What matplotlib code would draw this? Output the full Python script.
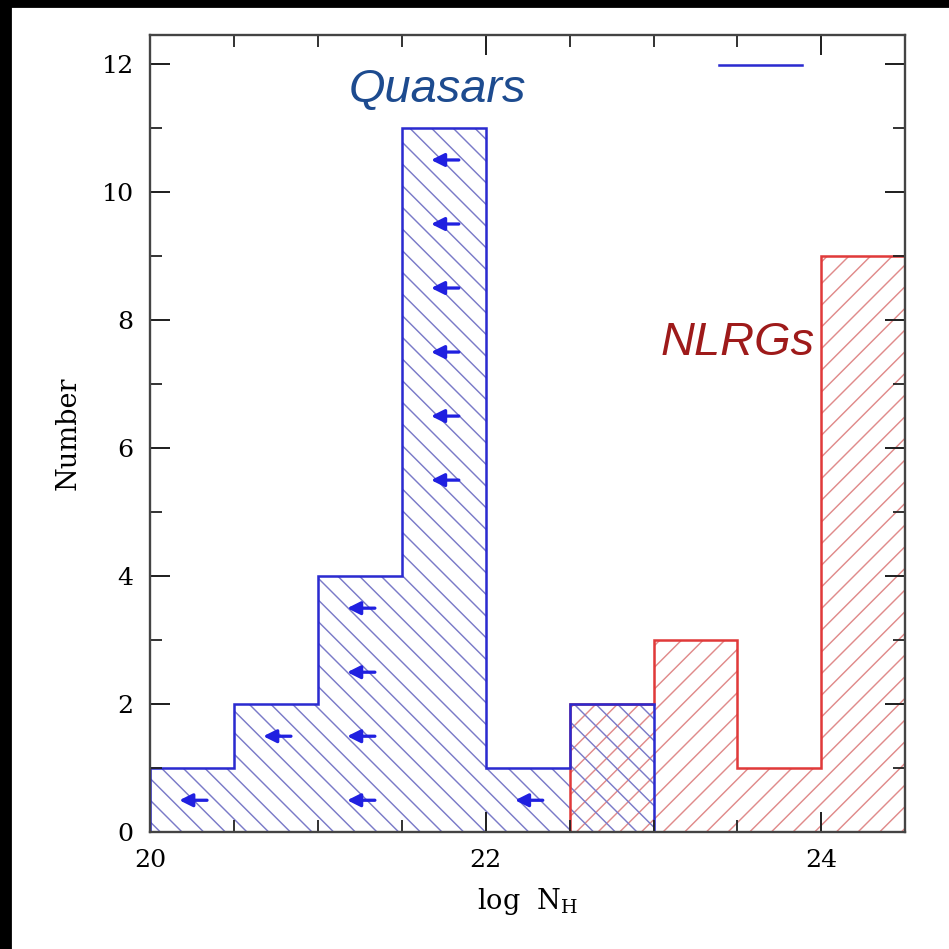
import matplotlib
matplotlib.use("Agg")
import matplotlib.pyplot as plt
from matplotlib.lines import Line2D
from matplotlib.patches import Rectangle
from matplotlib.ticker import MultipleLocator

# histogram data, bins of 0.5 in log NH
qso_edges = [20.0, 20.5, 21.0, 21.5, 22.0, 22.5, 23.0]
qso_counts = [1, 2, 4, 11, 1, 2]
nlrg_edges = [22.5, 23.0, 23.5, 24.0, 24.5]
nlrg_counts = [2, 3, 1, 9]

# upper limits (bin centre, level)
ul_x = [20.25, 20.75, 21.25, 21.25, 21.25, 21.25,
        21.75, 21.75, 21.75, 21.75, 21.75, 21.75, 22.25]
ul_y = [0.5, 1.5, 0.5, 1.5, 2.5, 3.5,
        5.5, 6.5, 7.5, 8.5, 9.5, 10.5, 0.5]

blue = "#2b2bd0"
blue_hatch = "#7a7ac8"
red = "#e03a3a"
red_hatch = "#e08a8a"

plt.rcParams['hatch.linewidth'] = 0.8
plt.rcParams['font.family'] = ['DejaVu Serif']

dpi = 130
fig = plt.figure(figsize=(949 / dpi, 949 / dpi), dpi=dpi)
ax = fig.add_axes([0.158, 0.123, 0.796, 0.840])

# hatched fills
ax.bar(nlrg_edges[:-1], nlrg_counts, width=0.5, align='edge', fill=False,
       hatch='//', edgecolor=red_hatch, linewidth=0)
ax.bar(qso_edges[:-1], qso_counts, width=0.5, align='edge', fill=False,
       hatch='\\\\', edgecolor=blue_hatch, linewidth=0)

# outlines
ax.stairs(nlrg_counts, nlrg_edges, color=red, linewidth=1.4)
ax.stairs(qso_counts, qso_edges, color=blue, linewidth=1.4)

# upper limit arrows
for x, y in zip(ul_x, ul_y):
    ax.annotate('', xy=(x - 0.075, y), xytext=(x + 0.09, y),
                arrowprops=dict(arrowstyle='-|>', color='#2020e0', lw=1.8,
                                mutation_scale=15, shrinkA=0, shrinkB=0))

ax.set_xlim(20, 24.5)
ax.set_ylim(0, 12.45)
ax.xaxis.set_major_locator(MultipleLocator(2))
ax.xaxis.set_minor_locator(MultipleLocator(0.5))
ax.yaxis.set_major_locator(MultipleLocator(2))
ax.yaxis.set_minor_locator(MultipleLocator(1))
ax.tick_params(which='both', direction='in', top=True, right=True,
               color='#222222', labelsize=14, pad=9)
ax.tick_params(which='major', length=11, width=1.1)
ax.tick_params(which='minor', length=6.5, width=1.0)
for s in ax.spines.values():
    s.set_linewidth(1.3)
    s.set_color('#444444')

ax.set_ylabel('Number', fontsize=15, labelpad=11)
ax.set_xlabel(r'log  $\mathregular{N_H}$', fontsize=15, labelpad=8)

ax.text(21.71, 11.6, 'Quasars', color='#1d4b8f', fontsize=26,
        family='Liberation Sans', fontstyle='italic',
        ha='center', va='center')
ax.text(23.5, 7.64, 'NLRGs', color='#9e1a1a', fontsize=26,
        family='Liberation Sans', fontstyle='italic',
        ha='center', va='center')

ax.legend(handles=[Line2D([], [], color=blue, linewidth=1.4)], labels=[''],
          loc='center', bbox_to_anchor=(0.808, 0.961), frameon=False,
          handlelength=4.6, handletextpad=0, borderpad=0, fontsize=10)

# black frame strips at top and left
fig.add_artist(Rectangle((0, 1 - 7 / 949), 1, 7 / 949,
                         transform=fig.transFigure, color='black'))
fig.add_artist(Rectangle((0, 0), 11 / 949, 1,
                         transform=fig.transFigure, color='black'))

fig.savefig('out.png', dpi=dpi)
